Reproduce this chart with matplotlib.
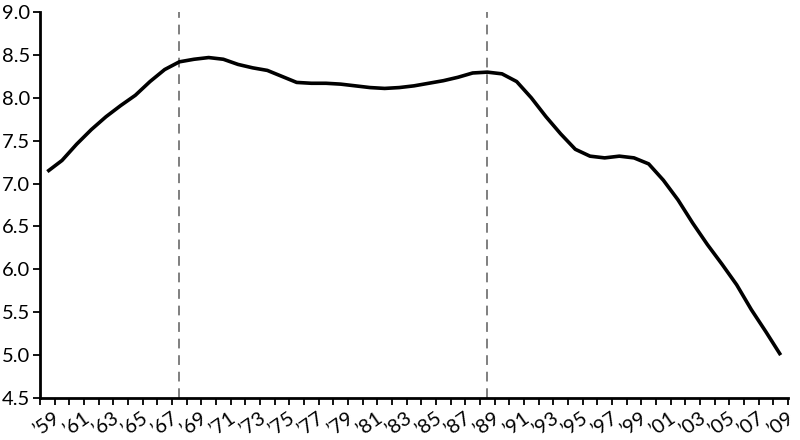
import matplotlib
matplotlib.use('Agg')
import matplotlib.pyplot as plt
import numpy as np

# yearly values 1959-2009
years = list(range(1959, 2010))
values = [7.14, 7.27, 7.46, 7.63, 7.78, 7.91, 8.03, 8.19, 8.33, 8.42,
          8.45, 8.47, 8.45, 8.39, 8.35, 8.32, 8.25, 8.18, 8.17, 8.17,
          8.16, 8.14, 8.12, 8.11, 8.12, 8.14, 8.17, 8.20, 8.24, 8.29,
          8.30, 8.28, 8.19, 8.00, 7.78, 7.58, 7.40, 7.32, 7.30, 7.32,
          7.30, 7.23, 7.04, 6.81, 6.54, 6.29, 6.06, 5.82, 5.53, 5.27,
          5.00]
marker_years = [1968, 1989]
y_ticks = [4.5, 5.0, 5.5, 6.0, 6.5, 7.0, 7.5, 8.0, 8.5, 9.0]

plt.rcParams['font.family'] = ['Lato', 'DejaVu Sans']

fig = plt.figure(figsize=(8, 4.4), dpi=100)
ax = fig.add_axes([0.05, 0.0955, 0.935, 0.877])

x = np.arange(len(years))
ax.plot(x, values, color='black', lw=2.6, solid_joinstyle='round',
        solid_capstyle='butt', zorder=3)

for yr in marker_years:
    ax.axvline(years.index(yr), color='#7f7f7f', lw=1.4, ls=(0, (5, 3.5)), zorder=2)

ax.set_xlim(-0.5, len(years) - 0.5)
ax.set_ylim(4.5, 9.0)

# category boundaries get tick marks, every other category gets a label
ax.set_xticks(np.arange(-0.5, len(years), 1.0))
ax.set_xticklabels([])
ax.set_xticks(x[::2], minor=True)
ax.set_xticklabels(["\u2019" + str(y)[2:] for y in years[::2]], minor=True,
                   rotation=35, ha='center', va='top', fontsize=14.5)
ax.tick_params(axis='x', which='major', length=5, width=1.3, direction='out')
ax.tick_params(axis='x', which='minor', length=0, pad=8)

ax.set_yticks(y_ticks)
ax.set_yticklabels([f'{v:.1f}' for v in y_ticks], fontsize=14.5)
ax.tick_params(axis='y', length=5, width=1.3, pad=2)

for side in ['top', 'right']:
    ax.spines[side].set_visible(False)
for side in ['left', 'bottom']:
    ax.spines[side].set_linewidth(2)

fig.savefig('out.png', dpi=100)
